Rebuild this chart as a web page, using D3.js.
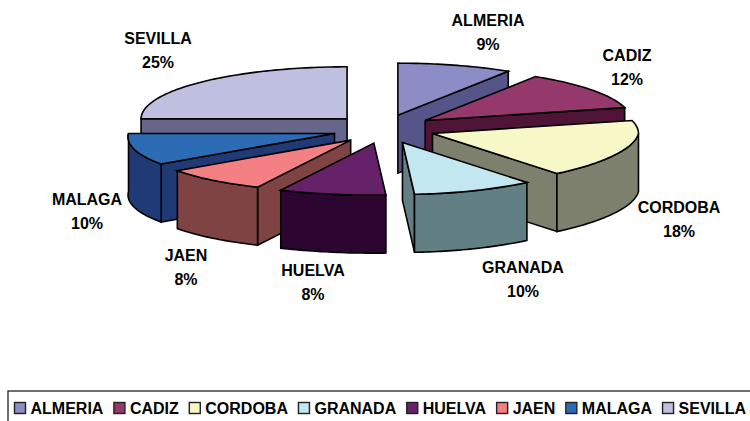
<!DOCTYPE html>
<html>
<head>
<meta charset="utf-8">
<script src="https://cdn.jsdelivr.net/npm/d3@7"></script>
<style>
  html, body { margin: 0; padding: 0; background: #fff; overflow: hidden; }
  svg { display: block; }
  text { font-family: "Liberation Sans", Arial, sans-serif; font-weight: bold; fill: #000; }
</style>
</head>
<body>
<svg width="750" height="421"></svg>
<script>
// data
const provinces = ["ALMERIA", "CADIZ", "CORDOBA", "GRANADA", "HUELVA", "JAEN", "MALAGA", "SEVILLA"];
const shares = [9, 12, 18, 10, 8, 8, 10, 25];
const topColors = ["#8c8cc6", "#95386b", "#f8f7c8", "#c3e7f1", "#652268", "#f58084", "#2c6cb5", "#bfbfdf"];
const sideColors = ["#55558a", "#4f1436", "#7c806c", "#628083", "#2c0530", "#7f4344", "#1f3a75", "#66668a"];

// label centres, placed by hand like the original
const labelX = [488, 627, 679, 523, 313, 186, 87, 158];
const labelY = [26, 61, 213, 273, 276, 261, 205, 44];

// back to front
const drawOrder = [7, 0, 1, 6, 2, 5, 3, 4];

const svg = d3.select("svg");

// flattened pie: unit circle goes to an ellipse
const x = d3.scaleLinear().domain([-1, 1]).range([383.5 - 206, 383.5 + 206]);
const y = d3.scaleLinear().domain([-1, 1]).range([129 + 52, 129 - 52]);
const depth = 58;
const explodeX = 0.25;
const explodeY = 0.277;
const frontLean = 0.068; // the near half of the rim leans left a bit in the original

const pie = d3.pie().sort(null).startAngle(0).endAngle(2 * Math.PI);
const slices = pie(shares);

const line = d3.line().x(d => d[0]).y(d => d[1]);

function rimPoint(a, ox, oy, drop) {
    const lean = frontLean * Math.abs(Math.sin(a)) * Math.min(0, Math.cos(a));
    return [x(ox + Math.sin(a) + lean), y(oy + Math.cos(a)) + drop];
}

function arcPoints(a0, a1, ox, oy, drop) {
    const n = Math.max(2, Math.ceil((a1 - a0) / 0.02));
    return d3.range(n + 1).map(i => rimPoint(a0 + (a1 - a0) * i / n, ox, oy, drop));
}

function drawSlice(i) {
    const s = slices[i];
    const mid = (s.startAngle + s.endAngle) / 2;
    const ox = explodeX * Math.sin(mid);
    const oy = explodeY * Math.cos(mid);
    const g = svg.append("g")
        .attr("stroke", "#000")
        .attr("stroke-width", 1.6)
        .attr("stroke-linejoin", "miter");

    const apex = [x(ox), y(oy)];

    // straight cut faces, only when they look towards the viewer
    const faces = [];
    if (Math.sin(s.startAngle) < -1e-6) faces.push(s.startAngle);
    if (Math.sin(s.endAngle) > 1e-6) faces.push(s.endAngle);
    faces.forEach(a => {
        const p = rimPoint(a, ox, oy, 0);
        g.append("path")
            .attr("d", line([apex, p, [p[0], p[1] + depth], [apex[0], apex[1] + depth]]) + "Z")
            .attr("fill", sideColors[i]);
    });

    // outer wall, only the part that faces the viewer
    const a0 = Math.max(s.startAngle, Math.PI / 2);
    const a1 = Math.min(s.endAngle, 3 * Math.PI / 2);
    if (a1 > a0) {
        const rim = arcPoints(a0, a1, ox, oy, 0).concat(arcPoints(a0, a1, ox, oy, depth).reverse());
        g.append("path")
            .attr("d", line(rim) + "Z")
            .attr("fill", sideColors[i]);
    }

    // top
    const top = [apex].concat(arcPoints(s.startAngle, s.endAngle, ox, oy, 0));
    g.append("path")
        .attr("d", line(top) + "Z")
        .attr("fill", topColors[i]);
}

drawOrder.forEach(drawSlice);

// data labels
provinces.forEach((name, i) => {
    const t = svg.append("text")
        .attr("text-anchor", "middle")
        .attr("font-size", 16);
    t.append("tspan").attr("x", labelX[i]).attr("y", labelY[i]).text(name);
    t.append("tspan").attr("x", labelX[i]).attr("y", labelY[i] + 24).text(shares[i] + "%");
});

// legend box runs off the right and bottom edge
svg.append("rect")
    .attr("x", 8).attr("y", 391)
    .attr("width", 760).attr("height", 50)
    .attr("fill", "#fff")
    .attr("stroke", "#222")
    .attr("stroke-width", 1.3);

let legendX = 14.5;
provinces.forEach((name, i) => {
    svg.append("rect")
        .attr("x", legendX).attr("y", 402.5)
        .attr("width", 11).attr("height", 11)
        .attr("fill", topColors[i])
        .attr("stroke", "#222")
        .attr("stroke-width", 1.4);
    const t = svg.append("text")
        .attr("x", legendX + 16)
        .attr("y", 413.5)
        .attr("font-size", 16)
        .text(name);
    legendX += 16 + t.node().getComputedTextLength() + 10.5;
});
</script>
</body>
</html>
